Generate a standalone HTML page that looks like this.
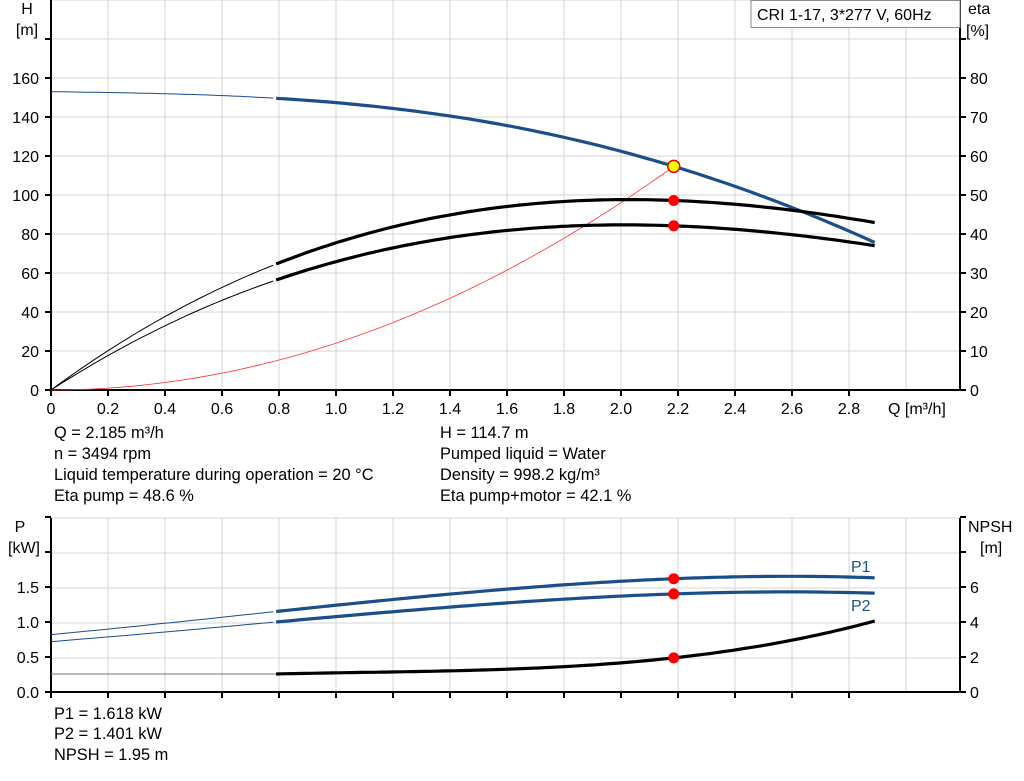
<!DOCTYPE html>
<html><head><meta charset="utf-8"><style>
body{margin:0;background:#fff;width:1024px;height:781px;overflow:hidden;font-family:"Liberation Sans",Arial,sans-serif}
svg text{font-family:"Liberation Sans",Arial,sans-serif;fill:#000}
.t{position:absolute;font-size:16.4px;white-space:nowrap}
</style></head><body>
<svg id="s" width="1024" height="781" style="position:absolute;left:0;top:0"></svg>
<div class="t" style="left:54px;top:424px">Q = 2.185 m³/h</div>
<div class="t" style="left:54px;top:445px">n = 3494 rpm</div>
<div class="t" style="left:54px;top:466px">Liquid temperature during operation = 20 °C</div>
<div class="t" style="left:54px;top:487px">Eta pump = 48.6 %</div>
<div class="t" style="left:440px;top:424px">H = 114.7 m</div>
<div class="t" style="left:440px;top:445px">Pumped liquid = Water</div>
<div class="t" style="left:440px;top:466px">Density = 998.2 kg/m³</div>
<div class="t" style="left:440px;top:487px">Eta pump+motor = 42.1 %</div>
<div class="t" style="left:54px;top:705px">P1 = 1.618 kW</div>
<div class="t" style="left:54px;top:725px">P2 = 1.401 kW</div>
<div class="t" style="left:54px;top:746px">NPSH = 1.95 m</div>
<script>
var s=document.getElementById('s'),h='';
var X0=51,XR=960,SX=285;
function qx(q){return X0+q*SX}
var FS=16;
for(var i=1;i<16;i++){var x=X0+i*57;h+='<line x1="'+x+'" y1="0" x2="'+x+'" y2="390" stroke="#d4d4d4"/>';}
for(var y=0;y<390;y+=39)h+='<line x1="51" y1="'+y+'" x2="960" y2="'+y+'" stroke="#d4d4d4"/>';
for(var i=1;i<16;i++){var x=X0+i*57;h+='<line x1="'+x+'" y1="518" x2="'+x+'" y2="692" stroke="#d4d4d4"/>';}
for(var y=518;y<692;y+=35)h+='<line x1="51" y1="'+y+'" x2="960" y2="'+y+'" stroke="#d4d4d4"/>';
h+='<path d="M51 0V390H960V0" fill="none" stroke="#000" stroke-width="2"/>';
h+='<path d="M51 518V692H960V518" fill="none" stroke="#000" stroke-width="2"/>';
for(var k=0;k<=9;k++){var y=390-k*39;h+='<line x1="45" y1="'+y+'" x2="51" y2="'+y+'" stroke="#000" stroke-width="2"/><line x1="960" y1="'+y+'" x2="966" y2="'+y+'" stroke="#000" stroke-width="2"/>';
 if(k<=8){h+='<text x="39" y="'+(y+6)+'" font-size="'+FS+'" text-anchor="end">'+(k*20)+'</text><text x="970" y="'+(y+6)+'" font-size="'+FS+'">'+(k*10)+'</text>';}}
for(var k=0;k<=14;k++){var x=qx(k*0.2);h+='<line x1="'+x+'" y1="390" x2="'+x+'" y2="396" stroke="#000" stroke-width="2"/><text x="'+x+'" y="414" font-size="'+FS+'" text-anchor="middle">'+(k==0?'0':(k*0.2).toFixed(1))+'</text>';}
h+='<text x="888" y="414" font-size="'+FS+'">Q [m³/h]</text>';
h+='<text x="27" y="14" font-size="'+FS+'" text-anchor="middle">H</text><text x="27" y="35" font-size="'+FS+'" text-anchor="middle">[m]</text>';
h+='<text x="968" y="14" font-size="'+FS+'">eta</text><text x="966" y="36" font-size="'+FS+'">[%]</text>';
h+='<rect x="751" y="0.5" width="209" height="27" fill="#fff" stroke="#888"/><text x="757" y="20" font-size="'+FS+'">CRI 1-17, 3*277 V, 60Hz</text>';
for(var k=0;k<=5;k++){var y=692-k*35;h+='<line x1="45" y1="'+y+'" x2="51" y2="'+y+'" stroke="#000" stroke-width="2"/><line x1="960" y1="'+y+'" x2="966" y2="'+y+'" stroke="#000" stroke-width="2"/>';
 if(k<=3)h+='<text x="39" y="'+(y+6)+'" font-size="'+FS+'" text-anchor="end">'+(k*0.5).toFixed(1)+'</text>';
 if(k<=3)h+='<text x="970" y="'+(y+6)+'" font-size="'+FS+'">'+(k*2)+'</text>';}
for(var k=0;k<=14;k++){var x=qx(k*0.2);h+='<line x1="'+x+'" y1="692" x2="'+x+'" y2="698" stroke="#000" stroke-width="2"/>';}
h+='<text x="20" y="532" font-size="'+FS+'" text-anchor="middle">P</text><text x="24" y="553" font-size="'+FS+'" text-anchor="middle">[kW]</text>';
h+='<text x="968" y="532" font-size="'+FS+'">NPSH</text><text x="980" y="553" font-size="'+FS+'">[m]</text>';
h+='<text x="851" y="572" font-size="'+FS+'" style="fill:#1a4f8a">P1</text><text x="851" y="611" font-size="'+FS+'" style="fill:#1a4f8a">P2</text>';
function lag(pts){return function(q){var r=0;for(var i=0;i<pts.length;i++){var t=pts[i][1];for(var j=0;j<pts.length;j++)if(j!=i)t*=(q-pts[j][0])/(pts[i][0]-pts[j][0]);r+=t;}return r;}}
function path(f,ymap,a,b){var d='';for(var q=a;q<=b+1e-9;q+=0.02){d+=(d?'L':'M')+qx(q).toFixed(1)+' '+ymap(f(q)).toFixed(1);}return d;}
function curve(f,ym,col,end){h+='<path d="'+path(f,ym,0,0.79)+'" fill="none" stroke="'+col+'" stroke-width="1"/>';h+='<path d="'+path(f,ym,0.79,end)+'" fill="none" stroke="'+col+'" stroke-width="3.2"/>';}
var yH=function(v){return 390-v*1.95},yE=function(v){return 390-v*3.9},yP=function(v){return 692-v*70},yN=function(v){return 692-v*17.5};
var H=lag([[0,153],[0.8,149.5],[1.4,140.5],[2.185,114.7],[2.9,75]]);
var E1=lag([[0,0],[0.79,32.3],[2.185,48.6],[2.9,42.8]]);
var E2=lag([[0,0],[0.79,28.2],[2.185,42.1],[2.9,36.9]]);
var P1=lag([[0,0.82],[0.79,1.15],[2.185,1.618],[2.9,1.63]]);
var P2=lag([[0,0.72],[0.79,1.0],[2.185,1.401],[2.9,1.41]]);
var N=lag([[0.79,1.03],[1.5,1.25],[2.185,1.95],[2.9,4.1]]);
h+='<path d="'+path(function(q){return 24.02*q*q},yH,0,2.2)+'" fill="none" stroke="#f33" stroke-width="0.8"/>';
curve(H,yH,'#1a4f8a',2.9);curve(E1,yE,'#000',2.9);curve(E2,yE,'#000',2.9);
curve(P1,yP,'#1a4f8a',2.9);curve(P2,yP,'#1a4f8a',2.9);
h+='<line x1="51" y1="'+yN(1.03)+'" x2="'+qx(0.79)+'" y2="'+yN(1.03)+'" stroke="#777" stroke-width="1"/>';
h+='<path d="'+path(N,yN,0.79,2.9)+'" fill="none" stroke="#000" stroke-width="3.2"/>';
var xo=qx(2.185);
h+='<circle cx="'+xo+'" cy="'+yH(114.7)+'" r="6" fill="#ff0" stroke="#e00" stroke-width="1.5"/>';
[yE(48.6),yE(42.1),yP(1.618),yP(1.401),yN(1.95)].forEach(function(y){h+='<circle cx="'+xo+'" cy="'+y+'" r="5.5" fill="#f00"/>';});
s.innerHTML=h;
</script>
</body></html>
